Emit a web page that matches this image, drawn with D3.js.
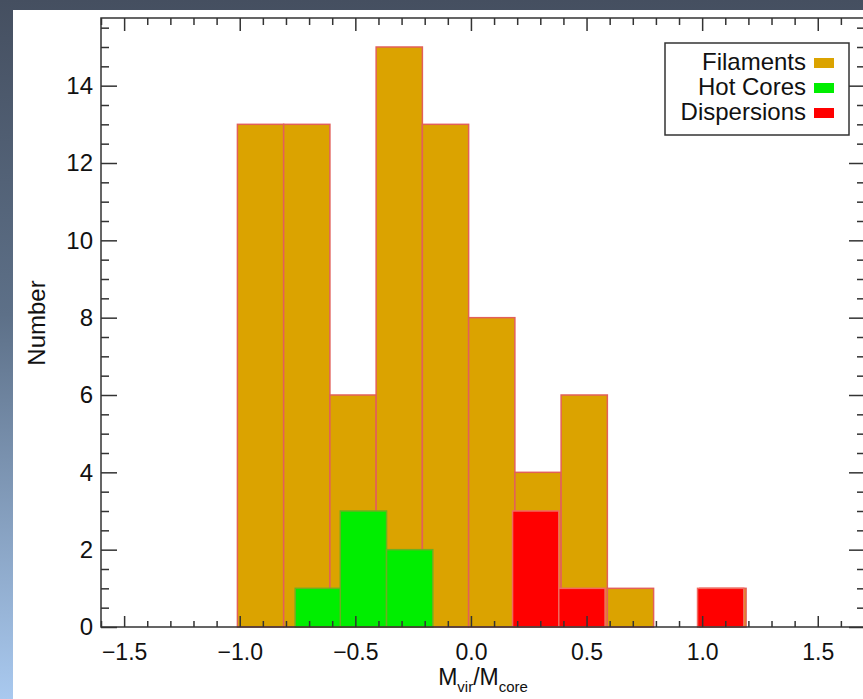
<!DOCTYPE html>
<html>
<head>
<meta charset="utf-8">
<script src="https://cdn.jsdelivr.net/npm/d3@7"></script>
<style>
  body { margin: 0; padding: 0; overflow: hidden; }
  svg { display: block; }
  text { font-family: "Liberation Sans", Arial, Helvetica, sans-serif; fill: #111; }
</style>
</head>
<body>
<div id="canvas"></div>
<script>
"use strict"

// DATA (bin left edges, bin width, counts)

let binWidth = 0.2;

let filamentStarts = [-1.01, -0.81, -0.61, -0.41, -0.21, -0.01, 0.19, 0.39, 0.59, 0.79, 0.99];
let filamentCounts = [13, 13, 6, 15, 13, 8, 4, 6, 1, 0, 1];

let hotCoreStarts = [-0.76, -0.565, -0.365];
let hotCoreCounts = [1, 3, 2];

let dispersionStarts = [0.18, 0.38, 0.58, 0.78, 0.98];
let dispersionCounts = [3, 1, 0, 0, 1];

let legendLabels = ["Filaments", "Hot Cores", "Dispersions"];
let legendColors = ["#dba300", "#00ee00", "#ff0000"];

let xMajorTicks = [-1.5, -1.0, -0.5, 0.0, 0.5, 1.0, 1.5];
let yMajorTicks = [0, 2, 4, 6, 8, 10, 12, 14];


// CONFIGURATION

let svgWidth = 863;
let svgHeight = 699;
let plotLeft = 101;
let plotRight = 865;
let plotTop = 18;
let plotBottom = 627;
let axisColor = "#333";


// CREATE SVG

let svg = d3.select("#canvas")
    .append("svg")
    .attr("width", svgWidth)
    .attr("height", svgHeight);

// space-ish backdrop
let defs = svg.append("defs");
let grad = defs.append("linearGradient")
    .attr("id", "bg")
    .attr("x1", 0).attr("y1", 0)
    .attr("x2", 0).attr("y2", 1);
grad.append("stop").attr("offset", "0%").attr("stop-color", "#454f60");
grad.append("stop").attr("offset", "45%").attr("stop-color", "#5d7088");
grad.append("stop").attr("offset", "100%").attr("stop-color", "#a9c9ef");

svg.append("rect")
    .attr("width", svgWidth)
    .attr("height", svgHeight)
    .attr("fill", "url(#bg)");

svg.append("rect")
    .attr("x", 13)
    .attr("y", 10)
    .attr("width", svgWidth - 13)
    .attr("height", svgHeight - 10)
    .attr("fill", "white");


// SCALES

let xScale = d3.scaleLinear()
    .domain([-1.6, 1.7])
    .range([plotLeft, plotRight - 1]);

let yScale = d3.scaleLinear()
    .domain([0, 15.75])
    .range([plotBottom, plotTop]);


// BARS

function drawBars(starts, counts, fill, stroke, cls) {
    let rows = starts.map(function(s, i) { return { x0: s, n: counts[i] }; });
    svg.selectAll("rect." + cls)
        .data(rows)
        .join("rect")
        .attr("class", cls)
        .attr("x", function(d) { return xScale(d.x0); })
        .attr("y", function(d) { return yScale(d.n); })
        .attr("width", function(d) { return xScale(d.x0 + binWidth) - xScale(d.x0); })
        .attr("height", function(d) { return yScale(0) - yScale(d.n); })
        .attr("fill", fill)
        .attr("stroke", stroke)
        .attr("stroke-width", 1.5);
}

drawBars(filamentStarts, filamentCounts, legendColors[0], "#e2605a", "fil");
drawBars(hotCoreStarts, hotCoreCounts, legendColors[1], "#6bb020", "hot");
drawBars(dispersionStarts, dispersionCounts, legendColors[2], "#f06a60", "disp");


// AXES

function styleAxis(g) {
    g.select(".domain").remove();
    g.selectAll("line").attr("stroke", axisColor).attr("stroke-width", 1.5);
    g.selectAll("text")
        .style("font-size", "23px")
        .style("font-family", "'Liberation Sans', Arial, sans-serif")
        .attr("fill", "#111");
}

let xMinor = d3.range(-16, 18).map(function(i) { return i / 10; })
    .filter(function(v) { return Math.abs(v * 2 - Math.round(v * 2)) > 1e-6; });
let yMinor = d3.range(1, 32, 2).map(function(i) { return i / 2; })
    .concat(d3.range(1, 16, 2));
yMinor = yMinor.filter(function(v) { return v < 15.75; });

let fmtX = function(d) { return d3.format(".1f")(d).replace("-", "\u2212"); };

svg.append("g")
    .attr("transform", "translate(0," + plotBottom + ")")
    .call(d3.axisBottom(xScale).tickValues(xMajorTicks).tickSize(-11).tickPadding(17).tickFormat(fmtX))
    .call(styleAxis);

svg.append("g")
    .attr("transform", "translate(0," + plotBottom + ")")
    .call(d3.axisBottom(xScale).tickValues(xMinor).tickSize(-6).tickFormat(""))
    .call(styleAxis);

svg.append("g")
    .attr("transform", "translate(0," + plotTop + ")")
    .call(d3.axisTop(xScale).tickValues(xMajorTicks).tickSize(-13).tickFormat(""))
    .call(styleAxis);

svg.append("g")
    .attr("transform", "translate(0," + plotTop + ")")
    .call(d3.axisTop(xScale).tickValues(xMinor).tickSize(-7).tickFormat(""))
    .call(styleAxis);

svg.append("g")
    .attr("transform", "translate(" + plotLeft + ",0)")
    .call(d3.axisLeft(yScale).tickValues(yMajorTicks).tickSize(-16).tickPadding(8).tickFormat(d3.format("d")))
    .call(styleAxis)
    .call(function(g) { g.selectAll("text").style("font-size", "24px"); });

svg.append("g")
    .attr("transform", "translate(" + plotLeft + ",0)")
    .call(d3.axisLeft(yScale).tickValues(yMinor).tickSize(-8).tickFormat(""))
    .call(styleAxis);

svg.append("g")
    .attr("transform", "translate(" + plotRight + ",0)")
    .call(d3.axisRight(yScale).tickValues(yMajorTicks).tickSize(-16).tickFormat(""))
    .call(styleAxis);

svg.append("g")
    .attr("transform", "translate(" + plotRight + ",0)")
    .call(d3.axisRight(yScale).tickValues(yMinor).tickSize(-8).tickFormat(""))
    .call(styleAxis);

// frame
svg.append("rect")
    .attr("x", plotLeft)
    .attr("y", plotTop)
    .attr("width", plotRight - plotLeft)
    .attr("height", plotBottom - plotTop)
    .attr("fill", "none")
    .attr("stroke", axisColor)
    .attr("stroke-width", 1.5);


// AXIS TITLES

svg.append("text")
    .attr("transform", "translate(45,323) rotate(-90)")
    .attr("text-anchor", "middle")
    .style("font-size", "24px")
    .text("Number");

let xTitle = svg.append("text")
    .attr("x", (plotLeft + plotRight) / 2)
    .attr("y", 685)
    .attr("text-anchor", "middle")
    .style("font-size", "23px");
xTitle.append("tspan").text("M");
xTitle.append("tspan").attr("dy", 7).style("font-size", "15px").text("vir");
xTitle.append("tspan").attr("dy", -7).text("/M");
xTitle.append("tspan").attr("dy", 7).style("font-size", "15px").text("core");


// LEGEND

svg.append("rect")
    .attr("x", 665)
    .attr("y", 43)
    .attr("width", 184)
    .attr("height", 92)
    .attr("fill", "white")
    .attr("stroke", axisColor)
    .attr("stroke-width", 1.5);

legendLabels.forEach(function(label, i) {
    let baseY = 70 + i * 25;
    svg.append("text")
        .attr("x", 806)
        .attr("y", baseY)
        .attr("text-anchor", "end")
        .style("font-size", "24px")
        .text(label);
    svg.append("rect")
        .attr("x", 814)
        .attr("y", baseY - 12)
        .attr("width", 20)
        .attr("height", 10)
        .attr("fill", legendColors[i]);
});
</script>
</body>
</html>
